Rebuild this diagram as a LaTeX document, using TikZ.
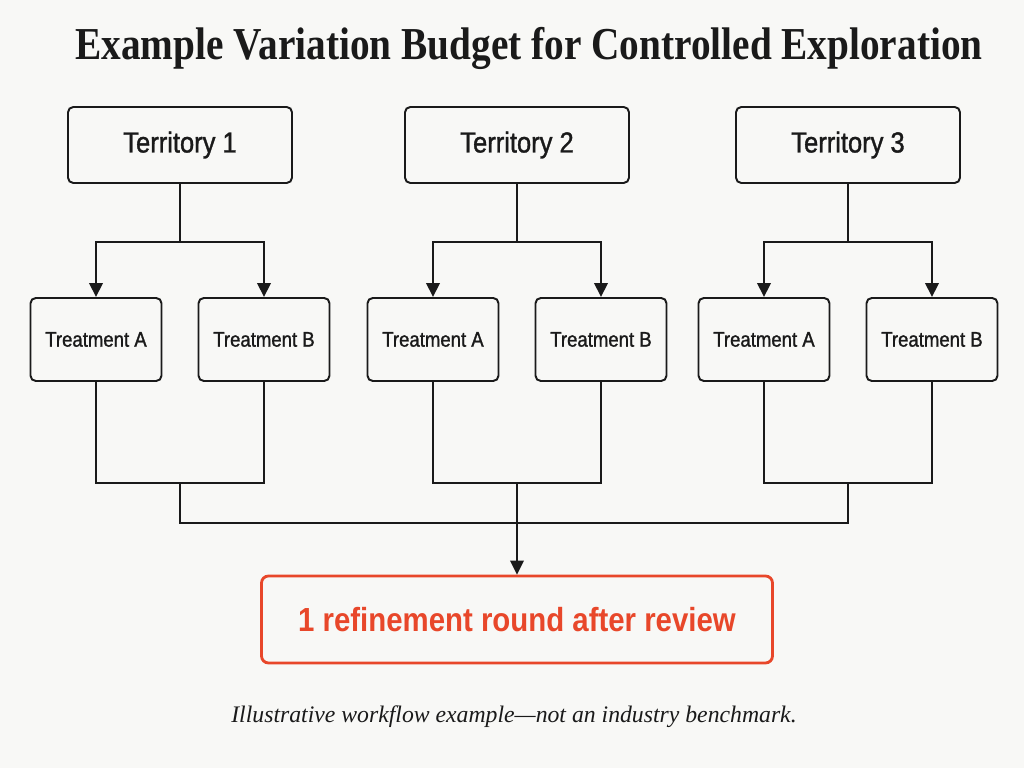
\documentclass[tikz,border=0pt]{standalone}
\usepackage{fontspec}
\setmainfont{Liberation Serif}
\newfontfamily\boxfont[FakeStretch=0.88,FakeBold=1.2]{Liberation Sans}
\newfontfamily\resultfont[FakeStretch=0.88]{Liberation Sans}
\newfontfamily\titlefont[FakeStretch=0.86]{Liberation Serif}
\usetikzlibrary{arrows.meta}
\definecolor{paper}{HTML}{F8F8F6}
\definecolor{ink}{HTML}{1A1A1A}
\definecolor{budget}{HTML}{E8472A}

\begin{document}
\begin{tikzpicture}[x=1cm,y=1cm,line width=1.1pt,color=ink,
  box/.style={draw=ink,rounded corners=3pt,align=center,inner sep=0pt},
  terr/.style={box,minimum width=4.48cm,minimum height=1.52cm,
    font=\boxfont\fontsize{16.5}{19}\selectfont},
  treat/.style={box,minimum width=2.62cm,minimum height=1.66cm,
    font=\boxfont\fontsize{12}{14}\selectfont},
  flow/.style={-{Triangle[length=2.8mm,width=2.7mm]}}]
\fill[paper] (0,0) rectangle (20.48,15.36);
\useasboundingbox (0,0) rectangle (20.48,15.36);

\node[font=\titlefont\bfseries\fontsize{26}{30}\selectfont] (title) at (10.58,14.40)
  {Example Variation Budget for Controlled Exploration};

\foreach \i/\x in {1/3.6,2/10.34,3/16.96} {
  \node[terr] (terr\i) at (\x,12.46) {Territory \i};
  \node[treat] (ta\i) at (\x-1.68,8.57) {Treatment A};
  \node[treat] (tb\i) at (\x+1.68,8.57) {Treatment B};
  \coordinate (split\i) at (\x,10.52);
  \coordinate (join\i) at (\x,5.70);
  \draw (terr\i.south) -- (split\i);
  \draw[flow] (split\i) -| (ta\i.north);
  \draw[flow] (split\i) -| (tb\i.north);
  \draw (ta\i.south) |- (join\i) -| (tb\i.south);
}

\node[draw=budget,line width=1.6pt,rounded corners=4pt,minimum width=10.22cm,
  minimum height=1.74cm,text=budget,font=\resultfont\bfseries\fontsize{19}{22}\selectfont]
  (result) at (10.34,2.97) {1 refinement round after review};

\coordinate (bus) at (10.34,4.90);
\draw (join1) -- (join1 |- bus) -- (join3 |- bus) -- (join3);
\draw[flow] (join2) -- (result.north);

\node[font=\itshape\fontsize{13.5}{16}\selectfont] (note) at (10.28,1.02)
  {Illustrative workflow example---not an industry benchmark.};
\end{tikzpicture}
\end{document}
